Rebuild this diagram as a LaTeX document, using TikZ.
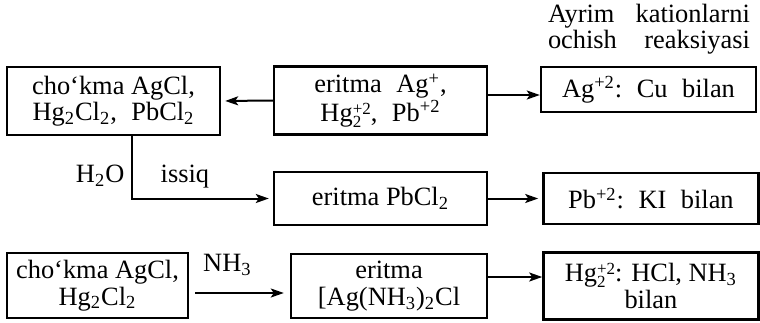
\documentclass[tikz,border=0pt]{standalone}
\usepackage{amsmath}
\usepackage{fontspec}
\setmainfont{Liberation Serif}
\usetikzlibrary{positioning,arrows.meta}

\newcommand\boxfont{\fontsize{13.2}{13.2}\selectfont}
\newcommand\titlefont{\fontsize{13.2}{10.8}\selectfont}
\newcommand\ionss[2]{\raisebox{-0.45ex}{\rlap{\fontsize{8.5}{8.5}\selectfont #1}}\raisebox{0.6ex}{\fontsize{8.5}{8.5}\selectfont #2}}
\newcommand\wsp{\hspace{0.55em}}

\begin{document}
\begin{tikzpicture}[
        x=0.5pt, y=-0.5pt,
        box/.style={rectangle, draw, line width=1.2pt, minimum width=106.5pt, align=center, inner sep=1pt, font=\boxfont},
        testbox/.style={box, minimum width=107.5pt},
        arr/.style={-{Stealth[length=6.5pt, width=4.5pt, inset=1.5pt]}, line width=1pt},
        >=Stealth
      ]
      \useasboundingbox (0,0) rectangle (760,322);

      % Heading over the test column
      \node[font=\titlefont, align=center, inner sep=0pt] (title) at (649,29)
        {\makebox[101pt][s]{Ayrim kationlarni}\\\makebox[101pt][s]{ochish reaksiyasi}};

      % Row 1
      \node[box, minimum height=34pt] (erit1) at (380.5,100.5) {eritma\wsp Ag\textsuperscript{+},\\Hg\ionss{2}{+2},\wsp Pb\textsuperscript{+2}};
      \node[box, minimum height=34pt] (chok1) at (113.5,101) {cho‘kma AgCl,\\Hg\textsubscript{2}Cl\textsubscript{2},\wsp PbCl\textsubscript{2}};
      \node[testbox, minimum height=22.5pt] (agtest) at (648.5,89.5) {Ag\textsuperscript{+2}:\wsp Cu\wsp bilan};

      % Row 2
      \node[box, minimum height=26.5pt] (erit2) at (380.5,198.5) {eritma PbCl\textsubscript{2}};
      \node[testbox, minimum height=25.5pt, right=27pt of erit2] (pbtest) {Pb\textsuperscript{+2}:\wsp KI\wsp bilan};

      % Row 3
      \node[box, minimum width=90.5pt, minimum height=32.5pt] (chok2) at (97.5,285.5) {cho‘kma AgCl,\\Hg\textsubscript{2}Cl\textsubscript{2}};
      \node[box, minimum width=98pt, minimum height=32pt] (erit3) at (389,286) {eritma\\{[}Ag(NH\textsubscript{3})\textsubscript{2}Cl};
      \node[testbox, minimum height=33.5pt, right=27pt of erit3] (hgtest) {Hg\ionss{2}{+2}: HCl, NH\textsubscript{3}\\bilan};

      % Connections
      \draw[arr, shorten >=2pt] (erit1.west) -- (chok1.east);
      \draw[arr] ([yshift=2.75pt]erit1.east) -- ([yshift=-2.75pt]agtest.west);
      \draw[arr, shorten >=2pt] ([xshift=9.25pt]chok1.south) |-
        node[pos=0.32, left=0pt, font=\boxfont] (water) {H\textsubscript{2}O}
        node[pos=0.32, right=10.5pt, font=\boxfont] (heat) {issiq} (erit2.west);
      \draw[arr, shorten >=2pt] (erit2.east) -- (erit2.east -| pbtest.west);
      \draw[arr, shorten <=3pt, shorten >=3pt] ([yshift=-3.75pt]chok2.east) --
        node[pos=0.38, above=5pt, font=\boxfont] (ammonia) {NH\textsubscript{3}} ([yshift=-3.75pt]chok2.east -| erit3.west);
      \draw[arr] ([yshift=4.5pt]erit3.east) -- ([yshift=4.5pt]erit3.east -| hgtest.west);

    \end{tikzpicture}
\end{document}
